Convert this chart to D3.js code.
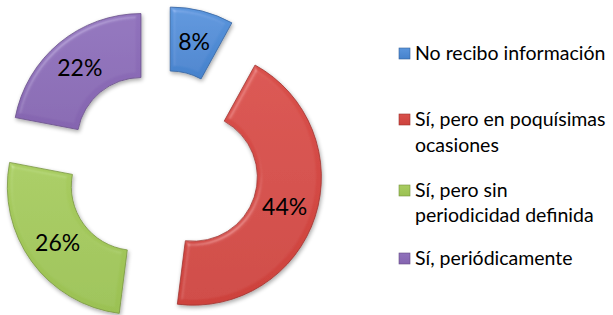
<!DOCTYPE html>
<html>
<head>
<meta charset="utf-8">
<script src="https://cdn.jsdelivr.net/npm/d3@7"></script>
<style>
  html, body { margin: 0; padding: 0; background: #fff; }
  svg { display: block; font-family: Lato, "Open Sans", sans-serif; }
</style>
</head>
<body>
<div id="chart"></div>
<script>
// data
var categories = ['No recibo información', 'Sí, pero en poquísimas ocasiones',
                  'Sí, pero sin periodicidad definida', 'Sí, periódicamente'];
var values = [8, 44, 26, 22];
var legendLines = [['No recibo información'], ['Sí, pero en poquísimas', 'ocasiones'],
                   ['Sí, pero sin', 'periodicidad definida'], ['Sí, periódicamente']];
var colors = ['#4682cc', '#cd423d', '#9bc153', '#8565b0'];
var lightColors = ['#5a95dc', '#d9504b', '#a8cc60', '#9072bc'];

var width = 613, height = 315;
var cx = 162, cy = 167, rOuter = 128, rInner = 64, explode = 33;

var svg = d3.select('#chart').append('svg')
    .attr('width', width)
    .attr('height', height);

var defs = svg.append('defs');

// bevel look: specular highlight on blurred alpha plus soft shadow
var f = defs.append('filter').attr('id', 'bevel')
    .attr('x', '-20%').attr('y', '-20%').attr('width', '140%').attr('height', '140%');
f.append('feGaussianBlur').attr('in', 'SourceAlpha').attr('stdDeviation', 2.5).attr('result', 'blur');
var spec = f.append('feSpecularLighting').attr('in', 'blur').attr('surfaceScale', 4)
    .attr('specularConstant', 0.5).attr('specularExponent', 20)
    .attr('lighting-color', '#ffffff').attr('result', 'spec');
spec.append('feDistantLight').attr('azimuth', 235).attr('elevation', 40);
f.append('feComposite').attr('in', 'spec').attr('in2', 'SourceAlpha')
    .attr('operator', 'in').attr('result', 'specOut');
f.append('feComposite').attr('in', 'SourceGraphic').attr('in2', 'specOut')
    .attr('operator', 'arithmetic').attr('k1', 0).attr('k2', 1).attr('k3', 0.3).attr('k4', 0)
    .attr('result', 'lit');
f.append('feGaussianBlur').attr('in', 'SourceAlpha').attr('stdDeviation', 2).attr('result', 'sh');
f.append('feOffset').attr('in', 'sh').attr('dx', 1).attr('dy', 2).attr('result', 'shOff');
f.append('feComponentTransfer').attr('in', 'shOff').attr('result', 'shFade')
  .append('feFuncA').attr('type', 'linear').attr('slope', 0.35);
var merge = f.append('feMerge');
merge.append('feMergeNode').attr('in', 'shFade');
merge.append('feMergeNode').attr('in', 'lit');

colors.forEach(function(c, i) {
    var g = defs.append('linearGradient').attr('id', 'grad' + i)
        .attr('x1', 0).attr('y1', 0).attr('x2', 0).attr('y2', 1);
    g.append('stop').attr('offset', '0%').attr('stop-color', lightColors[i]);
    g.append('stop').attr('offset', '100%').attr('stop-color', c);
});

var pie = d3.pie().sort(null).value(function(d) { return d; });
var arc = d3.arc().innerRadius(rInner).outerRadius(rOuter);
var arcs = pie(values);

var plot = svg.append('g').attr('transform', 'translate(' + cx + ',' + cy + ')');

function shift(d) {
    var a = (d.startAngle + d.endAngle) / 2;
    return [explode * Math.sin(a), -explode * Math.cos(a)];
}

var slices = plot.selectAll('g.slice')
    .data(arcs)
  .enter().append('g')
    .attr('class', 'slice')
    .attr('transform', function(d) { var s = shift(d); return 'translate(' + s[0] + ',' + s[1] + ')'; });

slices.append('path')
    .attr('d', arc)
    .attr('fill', function(d, i) { return 'url(#grad' + i + ')'; })
    .attr('stroke', function(d, i) { return d3.color(colors[i]).darker(0.7); })
    .attr('stroke-width', 0.8)
    .attr('filter', 'url(#bevel)');

slices.append('text')
    .attr('x', function(d) { return arc.centroid(d)[0]; })
    .attr('y', function(d) { return arc.centroid(d)[1]; })
    .attr('dy', '0.35em')
    .attr('text-anchor', 'middle')
    .attr('font-size', 23)
    .attr('fill', '#000')
    .text(function(d) { return d.value + '%'; });

// legend
var legendX = 399;
var baselines = [[60], [126, 152], [197, 222], [265]];
var legend = svg.append('g');
legendLines.forEach(function(lines, i) {
    var y0 = baselines[i][0];
    legend.append('rect')
        .attr('x', legendX).attr('y', y0 - 12)
        .attr('width', 11).attr('height', 11)
        .attr('fill', 'url(#grad' + i + ')')
        .attr('stroke', d3.color(colors[i]).darker(0.8))
        .attr('stroke-width', 0.6);
    lines.forEach(function(t, j) {
        legend.append('text')
            .attr('x', legendX + 16)
            .attr('y', baselines[i][j])
            .attr('font-size', 19.5)
            .attr('fill', '#000')
            .text(t);
    });
});
</script>
</body>
</html>
